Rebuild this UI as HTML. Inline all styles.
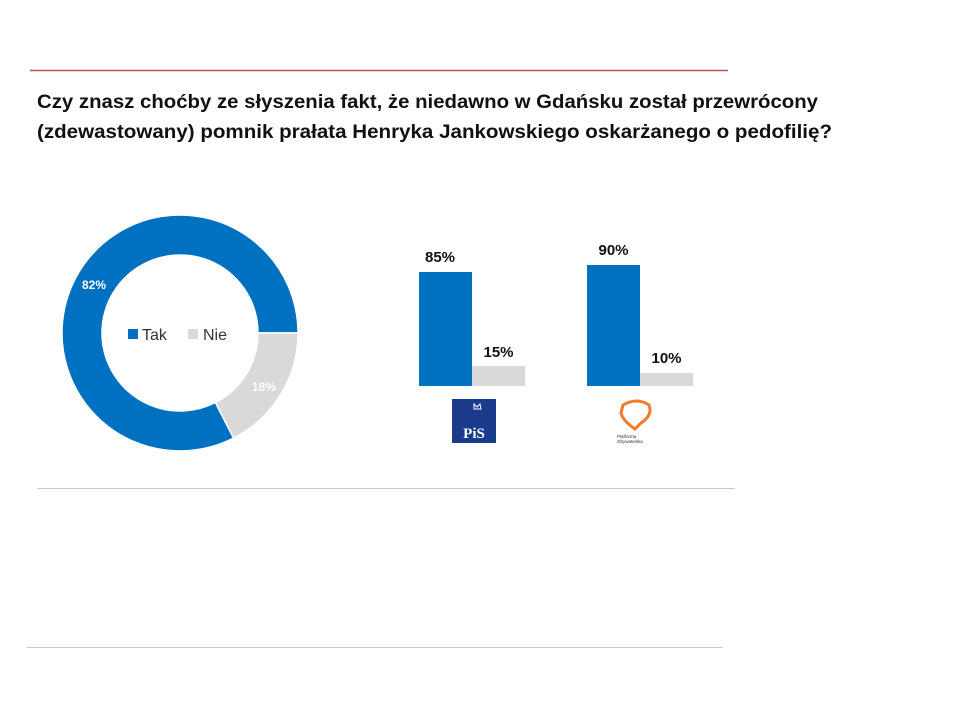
<!DOCTYPE html>
<html><head><meta charset="utf-8"><style>
html,body{margin:0;padding:0;background:#fff;}
svg{display:block;font-family:"Liberation Sans",sans-serif;}
</style></head><body>
<svg width="960" height="720" viewBox="0 0 960 720" xmlns="http://www.w3.org/2000/svg">
<line x1="30" y1="70.5" x2="728" y2="70.5" stroke="#c0504d" stroke-width="1.5"/>
<text x="37" y="108" font-size="19" font-weight="bold" fill="#111" textLength="781" lengthAdjust="spacingAndGlyphs">Czy znasz choćby ze słyszenia fakt, że niedawno w Gdańsku został przewrócony</text>
<text x="37" y="138" font-size="19" font-weight="bold" fill="#111" textLength="795" lengthAdjust="spacingAndGlyphs">(zdewastowany) pomnik prałata Henryka Jankowskiego oskarżanego o pedofilię?</text>

<path d="M233.6,438.1 A118,118 0 1 1 298,333 L258,333 A78,78 0 1 0 215.4,402.5 Z" fill="#0070c0" stroke="#fff" stroke-width="1.5"/>
<path d="M298,333 A118,118 0 0 1 233.6,438.1 L215.4,402.5 A78,78 0 0 0 258,333 Z" fill="#d9d9d9" stroke="#fff" stroke-width="1.5"/>
<text x="82" y="289" font-size="12" font-weight="bold" fill="#fff">82%</text>
<text x="252" y="391" font-size="12" font-weight="bold" fill="#fff">18%</text>
<rect x="128" y="329" width="10" height="10" fill="#0070c0"/>
<text x="142" y="340" font-size="16" fill="#333">Tak</text>
<rect x="188" y="329" width="10" height="10" fill="#d9d9d9"/>
<text x="203" y="340" font-size="16" fill="#333">Nie</text>

<rect x="419" y="272" width="53" height="114" fill="#0070c0"/>
<rect x="472" y="366" width="53" height="20" fill="#d9d9d9"/>
<text x="440" y="262" font-size="15" font-weight="bold" text-anchor="middle" fill="#111">85%</text>
<text x="498.5" y="357" font-size="15" font-weight="bold" text-anchor="middle" fill="#111">15%</text>
<rect x="587" y="265" width="53" height="121" fill="#0070c0"/>
<rect x="640" y="373" width="53" height="13" fill="#d9d9d9"/>
<text x="613.5" y="255" font-size="15" font-weight="bold" text-anchor="middle" fill="#111">90%</text>
<text x="666.5" y="363" font-size="15" font-weight="bold" text-anchor="middle" fill="#111">10%</text>

<rect x="452" y="399" width="44" height="44" fill="#1a3a8c"/>
<path d="M474,404 l3,3 3,-3 1,5 -7,0 z" fill="none" stroke="#fff" stroke-width="1"/>
<text x="474" y="438" font-size="15" font-weight="bold" text-anchor="middle" fill="#fff" font-family="Liberation Serif,serif">PiS</text>

<path d="M623,405 q14,-8 26,0 q4,10 -8,18 l-6,6 q-12,-8 -14,-16 z" fill="none" stroke="#f07c30" stroke-width="3"/>
<text x="617" y="438" font-size="4.5" fill="#333">Platforma</text>
<text x="617" y="443" font-size="4.5" fill="#333">Obywatelska</text>

<line x1="37" y1="488.5" x2="735" y2="488.5" stroke="#c8c8c8" stroke-width="1"/>
<line x1="27" y1="647.5" x2="723" y2="647.5" stroke="#c8c8c8" stroke-width="1"/>
</svg>
</body></html>
